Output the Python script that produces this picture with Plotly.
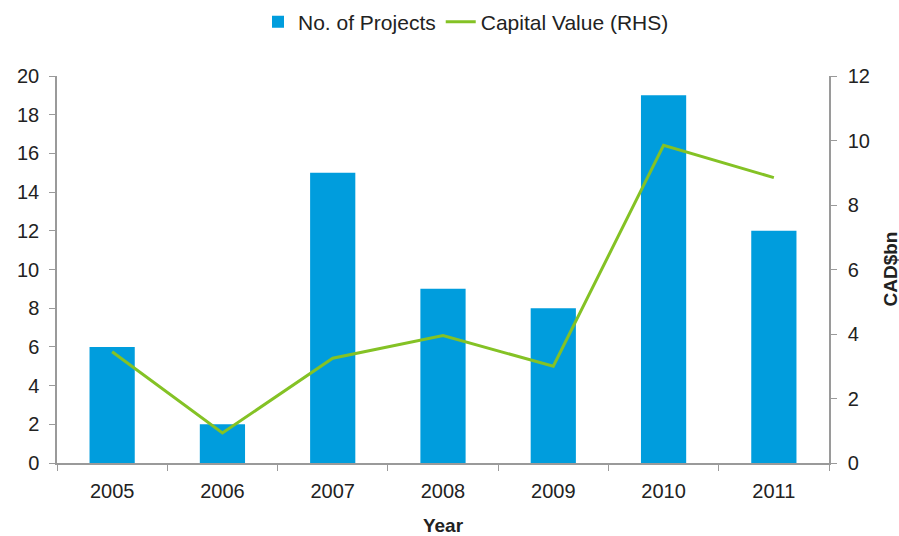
import plotly.graph_objects as go

years = ["2005", "2006", "2007", "2008", "2009", "2010", "2011"]
projects = [6, 2, 15, 9, 8, 19, 12]
capital_value = [3.45, 0.93, 3.25, 3.95, 3.0, 9.85, 8.85]

FONT = "Liberation Sans, Arial, sans-serif"
AX = "#9a9a9a"

fig = go.Figure()
fig.add_trace(go.Bar(x=years, y=projects, name="No. of Projects",
                     marker=dict(color="#009ddd", line=dict(width=0)), width=0.41))
fig.add_trace(go.Scatter(x=years, y=capital_value, name="Capital Value (RHS)", yaxis="y2",
                         mode="lines", line=dict(color="#84c225", width=3)))

fig.update_layout(
    width=899, height=536,
    margin=dict(l=57, r=70, t=76, b=73, autoexpand=False),
    paper_bgcolor="white", plot_bgcolor="white",
    font=dict(family=FONT, size=20, color="#222222"),
    showlegend=True,
    legend=dict(orientation="h", x=466 / 899, xanchor="center", xref="container",
                y=1 - 22 / 536, yanchor="middle", yref="container",
                font=dict(size=21), traceorder="normal"),
    xaxis=dict(tickson="boundaries", ticks="outside", ticklen=6, tickcolor=AX,
               showline=True, linecolor=AX, linewidth=1.5, showgrid=False,
               automargin=False, ticklabelstandoff=9,
               title=dict(text="<b>Year</b>", font=dict(size=19), standoff=21)),
    yaxis=dict(range=[0, 20], dtick=2, ticks="outside", ticklen=6, tickcolor=AX,
               showline=True, linecolor=AX, linewidth=1.5, showgrid=False, zeroline=False,
               automargin=False, ticklabelstandoff=6),
    yaxis2=dict(range=[0, 12], dtick=2, overlaying="y", side="right", ticks="outside",
                ticklen=6, tickcolor=AX, showline=True, linecolor=AX, linewidth=1.5,
                showgrid=False, zeroline=False, automargin=False, ticklabelstandoff=7),
    annotations=[dict(text="<b>CAD$bn</b>", xref="paper", yref="paper",
                      x=1 + (890 - 829) / 772, y=0.5, textangle=-90,
                      showarrow=False, font=dict(size=19), xanchor="center", yanchor="middle")],
    bargap=0.59,
)

fig.write_html("out.html", config={"displayModeBar": False},
               post_script="document.body.style.margin='0';")
